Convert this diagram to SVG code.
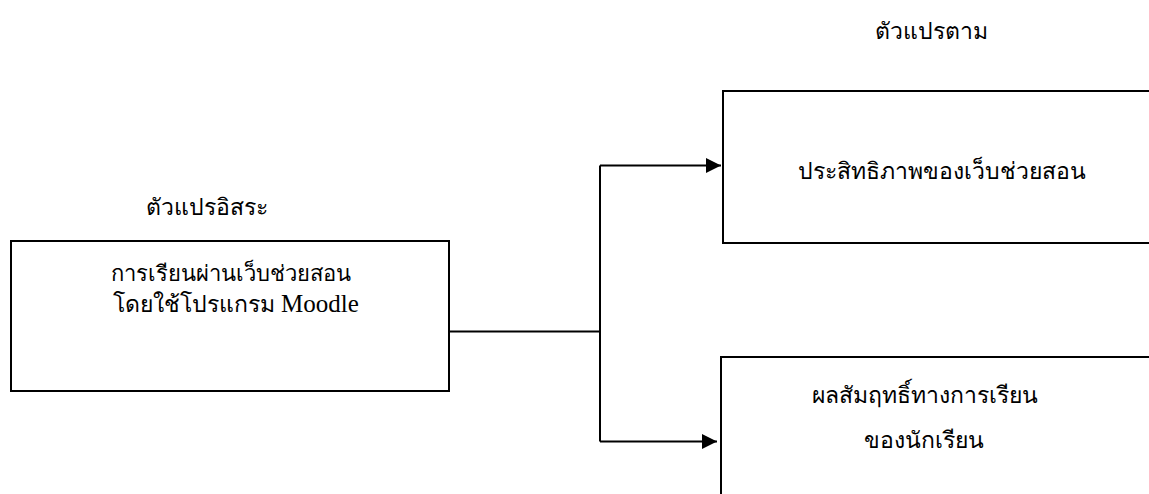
<svg xmlns="http://www.w3.org/2000/svg" width="1149" height="494" viewBox="0 0 1149 494">
<defs>
<style>
.box{fill:#fff;stroke:#000;stroke-width:2}
.ln{fill:none;stroke:#000;stroke-width:2}
.t{font-family:"Liberation Serif","DejaVu Serif",serif;font-size:23px;fill:#000;text-anchor:middle}
.m{font-size:25px}
</style>
<marker id="ah" markerWidth="15" markerHeight="15" viewBox="0 0 15 15" refX="15" refY="7.5" orient="auto" markerUnits="userSpaceOnUse">
<path d="M0,0 L15,7.5 L0,15 Z" fill="#000"/>
</marker>
</defs>
<rect width="1149" height="494" fill="#fff"/>
<g id="n-dependent-label"><text class="t" x="931" y="39">ตัวแปรตาม</text></g>
<g id="n-independent-label"><text class="t" x="207" y="215">ตัวแปรอิสระ</text></g>
<g id="n-independent">
<rect class="box" x="11" y="241" width="438" height="150"/>
<text class="t" x="231" y="281" style="font-size:22px">การเรียนผ่านเว็บช่วยสอน</text>
<text class="t" x="236" y="312">โดยใช้โปรแกรม <tspan class="m">Moodle</tspan></text>
</g>
<g id="n-efficiency">
<path class="box" d="M1150,91 H723 V243 H1150"/>
<text class="t" x="942" y="179">ประสิทธิภาพของเว็บช่วยสอน</text>
</g>
<g id="n-achievement">
<path class="box" d="M1150,357 H721 V495"/>
<text class="t" x="925" y="403">ผลสัมฤทธิ์ทางการเรียน</text>
<text class="t" x="924" y="448">ของนักเรียน</text>
</g>
<g id="connectors">
<path class="ln" d="M449,331.5 H600"/>
<path class="ln" d="M600,165.5 V441.5"/>
<path class="ln" d="M600,165.5 H721" marker-end="url(#ah)"/>
<path class="ln" d="M600,441.5 H717" marker-end="url(#ah)"/>
</g>
</svg>
